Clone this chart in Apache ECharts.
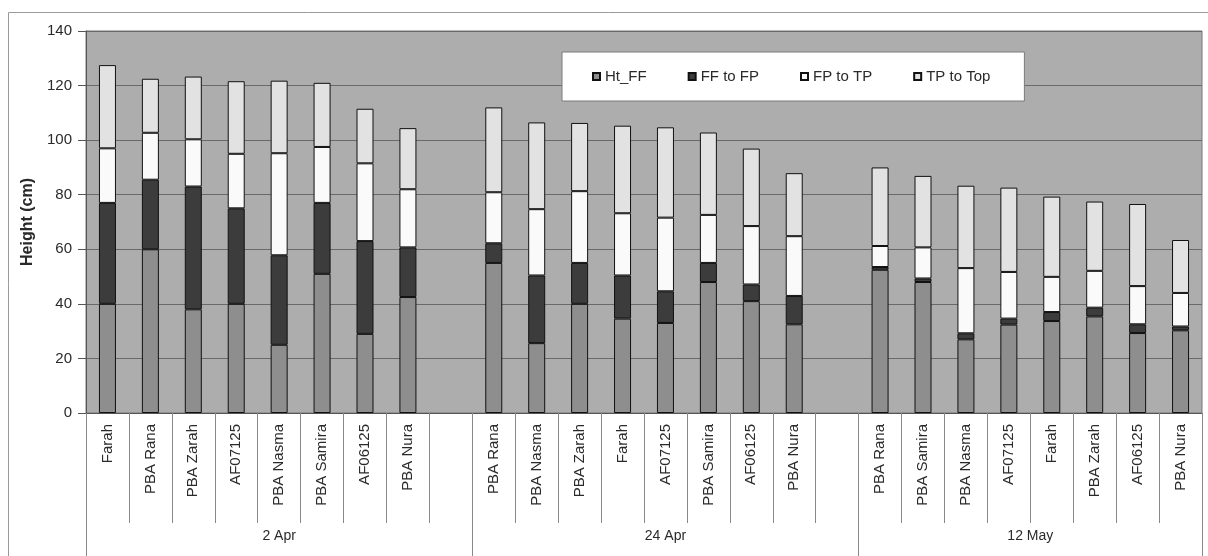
<!DOCTYPE html>
<html>
<head>
<meta charset="utf-8">
<script src="https://cdn.jsdelivr.net/npm/echarts@6/dist/echarts.min.js"></script>
<style>
html,body{margin:0;padding:0;background:#fff;}
#chart{width:1208px;height:556px;}
</style>
</head>
<body>
<div id="chart"></div>
<script>
var categories = ['Farah','PBA Rana','PBA Zarah','AF07125','PBA Nasma','PBA Samira','AF06125','PBA Nura','',
  'PBA Rana','PBA Nasma','PBA Zarah','Farah','AF07125','PBA Samira','AF06125','PBA Nura','',
  'PBA Rana','PBA Samira','PBA Nasma','AF07125','Farah','PBA Zarah','AF06125','PBA Nura'];
var htFF    = [40, 60, 38, 40, 25, 51, 29, 42.5, null, 55, 25.6, 40, 34.6, 33, 48, 41, 32.5, null, 52.5, 48, 27, 32.4, 33.7, 35.4, 29.3, 30.3];
var ffToFp  = [37, 25.5, 45, 35, 32.8, 26, 34, 18.2, null, 7.2, 24.8, 15, 15.8, 11.6, 7, 6.1, 10.4, null, 1, 1.3, 2.2, 2.2, 3.3, 3.2, 3.2, 1.4];
var fpToTp  = [20, 17.2, 17.3, 20, 37.4, 20.5, 28.5, 21.3, null, 18.7, 24.3, 26.3, 22.8, 27, 17.6, 21.4, 21.9, null, 7.7, 11.4, 23.9, 17.1, 12.9, 13.5, 14, 12.3];
var tpToTop = [30.5, 19.8, 23, 26.6, 26.6, 23.5, 20, 22.4, null, 31.1, 31.8, 25, 32.1, 33.1, 30.2, 28.4, 23.1, null, 28.8, 26.2, 30.2, 30.9, 29.4, 25.4, 30.1, 19.4];
var seriesNames = ['Ht_FF','FF to FP','FP to TP','TP to Top'];
var groupNames = ['2 Apr','24 Apr','12 May'];
var groupSpans = [9, 9, 8];
var yTicks = [0, 20, 40, 60, 80, 100, 120, 140];

// half-slot positions for the group axis (0, 0.5, ..., 26)
var total = groupSpans.reduce(function(a,b){return a+b;},0);
var groupAxisData = [];
for (var i = 0; i <= total*2; i++) groupAxisData.push('');
var tickIdx = {0:true};
var labelIdx = {};
var acc = 0;
groupNames.forEach(function(n, k){
  var center = acc + groupSpans[k]/2;
  groupAxisData[Math.round(center*2)] = n;
  labelIdx[Math.round(center*2)] = true;
  acc += groupSpans[k];
  tickIdx[acc*2] = true;
});

var colors = ['#8e8e8e', '#3c3c3c', '#fafafa', '#e2e2e2'];
var dataSets = [htFF, ffToFp, fpToTp, tpToTop];
var font = 'Liberation Sans, Arial, sans-serif';

var chart = echarts.init(document.getElementById('chart'));
chart.setOption({
  animation: false,
  textStyle: {fontFamily: font},
  graphic: [{
    type: 'rect', silent: true,
    shape: {x: 8.5, y: 12.5, width: 1220, height: 580},
    style: {fill: 'none', stroke: '#9a9a9a', lineWidth: 1}
  }],
  legend: {
    data: seriesNames,
    left: 562, top: 52,
    orient: 'horizontal',
    backgroundColor: '#ffffff',
    borderColor: '#7a7a7a', borderWidth: 1,
    padding: [17, 34, 17, 30],
    itemWidth: 7, itemHeight: 7, itemGap: 41,
    icon: 'rect',
    textStyle: {fontFamily: font, fontSize: 15, color: '#2a2a2a'}
  },
  grid: {
    left: 86, right: 6, top: 31, bottom: 143,
    show: true, backgroundColor: '#adadad', borderColor: '#777', borderWidth: 1
  },
  xAxis: [{
    type: 'category', data: categories, position: 'bottom',
    axisLine: {lineStyle: {color: '#555'}},
    axisTick: {show: true, interval: 0, length: 110, lineStyle: {color: '#888'}},
    axisLabel: {interval: 0, rotate: 90, margin: 11, fontSize: 15, color: '#2a2a2a', fontFamily: font},
    splitLine: {show: false}
  }, {
    type: 'category', data: groupAxisData, position: 'bottom', boundaryGap: false,
    axisLine: {show: false},
    axisTick: {show: true, length: 143, lineStyle: {color: '#888'},
      interval: function(idx){ return !!tickIdx[idx]; }},
    axisLabel: {margin: 116, fontSize: 14, color: '#2a2a2a', fontFamily: font,
      interval: function(idx){ return !!labelIdx[idx]; }},
    splitLine: {show: false}
  }],
  yAxis: {
    type: 'value', min: yTicks[0], max: yTicks[yTicks.length-1], interval: yTicks[1]-yTicks[0],
    name: 'Height (cm)', nameLocation: 'middle', nameGap: 49, nameRotate: 90,
    nameTextStyle: {fontSize: 16, fontWeight: 'bold', color: '#2a2a2a', fontFamily: font},
    axisLine: {show: true, lineStyle: {color: '#555'}},
    axisTick: {show: true, length: 8, lineStyle: {color: '#555'}},
    axisLabel: {margin: 14, fontSize: 15, color: '#2a2a2a', fontFamily: font},
    splitLine: {show: true, lineStyle: {color: '#6a6a6a', width: 1}}
  },
  series: seriesNames.map(function(n, k){
    return {
      name: n, type: 'bar', stack: 'h', barWidth: 17,
      data: dataSets[k],
      itemStyle: {color: colors[k], borderColor: '#111', borderWidth: 1}
    };
  })
});
</script>
</body>
</html>
